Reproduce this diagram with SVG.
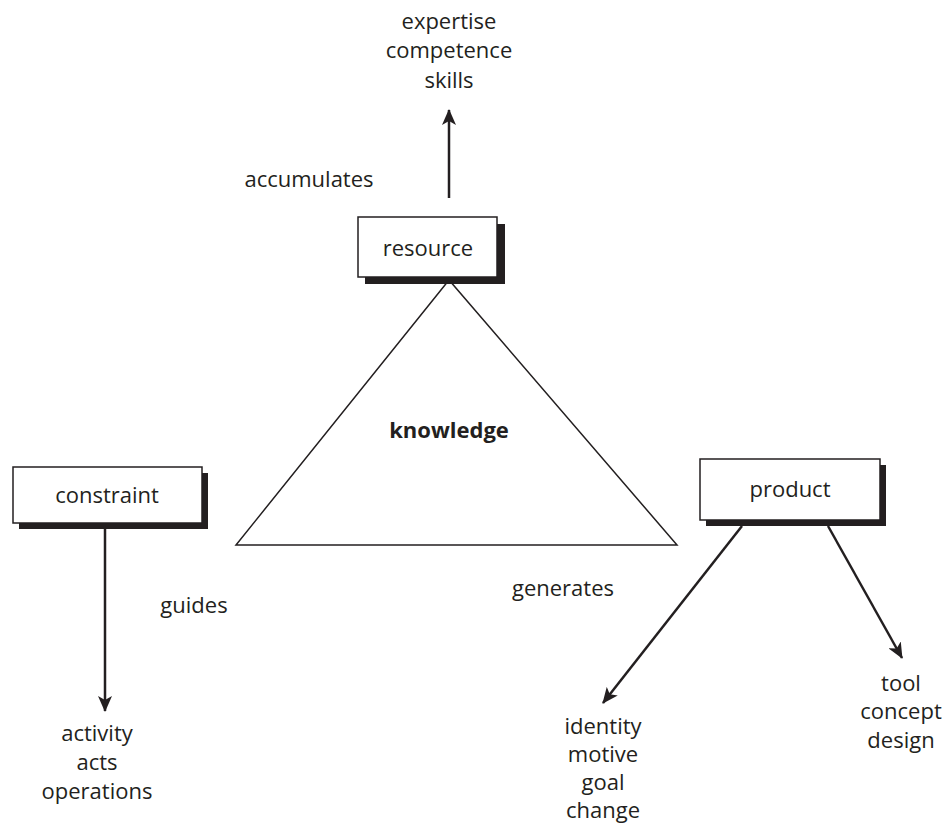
<svg xmlns="http://www.w3.org/2000/svg" width="946" height="828" viewBox="0 0 946 828">
  <style>
    text { font-family: "Open Sans", "Noto Sans", "DejaVu Sans", sans-serif; font-size: 22px; fill: #231f20; text-anchor: middle; }
    .box { fill: #fff; stroke: #231f20; stroke-width: 1.5; }
    .shadow { fill: #231f20; }
    .edge { stroke: #231f20; stroke-width: 2.5; fill: none; }
    .tri { fill: #fff; stroke: #231f20; stroke-width: 1.5; }
    .bold { font-weight: bold; }
  </style>
  <defs>
    <marker id="arrow" viewBox="0 0 16 14" refX="15" refY="7" markerWidth="16" markerHeight="14" markerUnits="userSpaceOnUse" orient="auto">
      <path d="M0,0 L16,7 L0,14 L4,7 Z" fill="#231f20"/>
    </marker>
  </defs>
  <rect width="946" height="828" fill="#fff"/>

  <g id="connectors">
    <line class="edge" x1="449" y1="198" x2="449" y2="110" marker-end="url(#arrow)"/>
    <line class="edge" x1="105" y1="528" x2="105" y2="711" marker-end="url(#arrow)"/>
    <line class="edge" x1="742" y1="526" x2="603" y2="703" marker-end="url(#arrow)"/>
    <line class="edge" x1="828" y1="526" x2="902" y2="658" marker-end="url(#arrow)"/>
  </g>

  <g id="knowledge">
    <polygon class="tri" points="449,280 236,545 677,545"/>
    <text class="bold" x="449" y="438">knowledge</text>
  </g>

  <g id="resource">
    <rect class="shadow" x="365" y="224" width="140" height="60"/>
    <rect class="box" x="358" y="217" width="139" height="60"/>
    <text x="428" y="256">resource</text>
  </g>

  <g id="constraint">
    <rect class="shadow" x="19" y="473" width="189" height="56"/>
    <rect class="box" x="13" y="467" width="189" height="56"/>
    <text x="107" y="503">constraint</text>
  </g>

  <g id="product">
    <rect class="shadow" x="706" y="465" width="180" height="61"/>
    <rect class="box" x="700" y="459" width="180" height="61"/>
    <text x="790" y="497">product</text>
  </g>

  <g id="labels">
    <text x="309" y="187">accumulates</text>
    <text x="194" y="613">guides</text>
    <text x="563" y="596">generates</text>
  </g>

  <g id="outcomes">
    <text x="449" y="29">expertise</text>
    <text x="449" y="58">competence</text>
    <text x="449" y="88">skills</text>
    <text x="97" y="741">activity</text>
    <text x="97" y="770">acts</text>
    <text x="97" y="799">operations</text>
    <text x="603" y="734">identity</text>
    <text x="603" y="762">motive</text>
    <text x="603" y="790">goal</text>
    <text x="603" y="818">change</text>
    <text x="901" y="691">tool</text>
    <text x="901" y="719">concept</text>
    <text x="901" y="748">design</text>
  </g>
</svg>
